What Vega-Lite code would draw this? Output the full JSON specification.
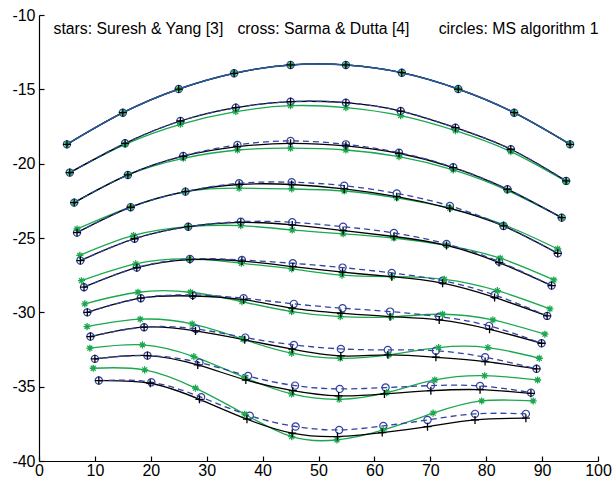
{
  "$schema": "https://vega.github.io/schema/vega-lite/v6.json",
  "width": 559,
  "height": 446,
  "autosize": {"type": "none"},
  "padding": {"left": 39, "top": 15, "right": 15, "bottom": 25},
  "config": {
    "view": {"stroke": null},
    "font": "Liberation Sans",
    "axis": {"domainColor": "#000", "tickColor": "#000", "labelColor": "#000", "labelFont": "Liberation Sans", "labelFontSize": 16, "grid": false, "title": null, "tickSize": -5, "domainWidth": 1.2, "tickWidth": 1.2, "labelFlush": false, "labelOverlap": false, "labelExpr": "'' + datum.value"}
  },
  "datasets": {
    "notes": [
      {"t": "stars: Suresh & Yang [3]", "x": 2.6, "y": -11.28},
      {"t": "cross: Sarma & Dutta [4]", "x": 35.5, "y": -11.28},
      {"t": "circles: MS algorithm 1", "x": 71.5, "y": -11.28}
    ],
    "pts": [
      {"r":1,"m":"s","x":5,"y":-18.7},{"r":1,"m":"s","x":15,"y":-16.57},{"r":1,"m":"s","x":25,"y":-14.98},{"r":1,"m":"s","x":34.9,"y":-13.92},{"r":1,"m":"s","x":45,"y":-13.36},{"r":1,"m":"s","x":54.9,"y":-13.36},{"r":1,"m":"s","x":64.9,"y":-13.88},{"r":1,"m":"s","x":75,"y":-14.98},{"r":1,"m":"s","x":85,"y":-16.57},{"r":1,"m":"s","x":95,"y":-18.7},
      {"r":1,"m":"k","x":5,"y":-18.7},{"r":1,"m":"k","x":15,"y":-16.57},{"r":1,"m":"k","x":25,"y":-14.98},{"r":1,"m":"k","x":34.9,"y":-13.92},{"r":1,"m":"k","x":45,"y":-13.36},{"r":1,"m":"k","x":54.9,"y":-13.36},{"r":1,"m":"k","x":64.9,"y":-13.88},{"r":1,"m":"k","x":75,"y":-14.98},{"r":1,"m":"k","x":85,"y":-16.57},{"r":1,"m":"k","x":95,"y":-18.7},
      {"r":1,"m":"c","x":5,"y":-18.7},{"r":1,"m":"c","x":15,"y":-16.57},{"r":1,"m":"c","x":25,"y":-14.98},{"r":1,"m":"c","x":34.9,"y":-13.92},{"r":1,"m":"c","x":45,"y":-13.36},{"r":1,"m":"c","x":54.9,"y":-13.36},{"r":1,"m":"c","x":64.9,"y":-13.88},{"r":1,"m":"c","x":75,"y":-14.98},{"r":1,"m":"c","x":85,"y":-16.57},{"r":1,"m":"c","x":95,"y":-18.7},

      {"r":2,"m":"s","x":5.5,"y":-20.6},{"r":2,"m":"s","x":15.4,"y":-18.7},{"r":2,"m":"s","x":25.3,"y":-17.35},{"r":2,"m":"s","x":35.2,"y":-16.5},{"r":2,"m":"s","x":45,"y":-16.1},{"r":2,"m":"s","x":54.9,"y":-16.23},{"r":2,"m":"s","x":64.7,"y":-16.77},{"r":2,"m":"s","x":74.5,"y":-17.78},{"r":2,"m":"s","x":84.4,"y":-19.19},{"r":2,"m":"s","x":94.3,"y":-21.2},
      {"r":2,"m":"k","x":5.5,"y":-20.6},{"r":2,"m":"k","x":15.4,"y":-18.63},{"r":2,"m":"k","x":25.3,"y":-17.13},{"r":2,"m":"k","x":35.2,"y":-16.23},{"r":2,"m":"k","x":45,"y":-15.83},{"r":2,"m":"k","x":54.9,"y":-15.9},{"r":2,"m":"k","x":64.7,"y":-16.46},{"r":2,"m":"k","x":74.5,"y":-17.58},{"r":2,"m":"k","x":84.4,"y":-19.03},{"r":2,"m":"k","x":94.3,"y":-21.16},
      {"r":2,"m":"c","x":5.5,"y":-20.6},{"r":2,"m":"c","x":15.4,"y":-18.63},{"r":2,"m":"c","x":25.3,"y":-17.13},{"r":2,"m":"c","x":35.2,"y":-16.23},{"r":2,"m":"c","x":45,"y":-15.83},{"r":2,"m":"c","x":54.9,"y":-15.9},{"r":2,"m":"c","x":64.7,"y":-16.46},{"r":2,"m":"c","x":74.5,"y":-17.58},{"r":2,"m":"c","x":84.4,"y":-19.03},{"r":2,"m":"c","x":94.3,"y":-21.16},

      {"r":3,"m":"s","x":6.3,"y":-22.62},{"r":3,"m":"s","x":15.9,"y":-20.76},{"r":3,"m":"s","x":25.8,"y":-19.64},{"r":3,"m":"s","x":35.5,"y":-19.08},{"r":3,"m":"s","x":45,"y":-18.96},{"r":3,"m":"s","x":54.9,"y":-19.08},{"r":3,"m":"s","x":64.4,"y":-19.53},{"r":3,"m":"s","x":74.1,"y":-20.42},{"r":3,"m":"s","x":83.8,"y":-21.8},{"r":3,"m":"s","x":93.5,"y":-23.63},
      {"r":3,"m":"k","x":6.3,"y":-22.62},{"r":3,"m":"k","x":15.9,"y":-20.76},{"r":3,"m":"k","x":25.8,"y":-19.5},{"r":3,"m":"k","x":35.5,"y":-18.86},{"r":3,"m":"k","x":45,"y":-18.63},{"r":3,"m":"k","x":54.9,"y":-18.8},{"r":3,"m":"k","x":64.4,"y":-19.3},{"r":3,"m":"k","x":74.1,"y":-20.26},{"r":3,"m":"k","x":83.8,"y":-21.72},{"r":3,"m":"k","x":93.5,"y":-23.63},
      {"r":3,"m":"c","x":6.3,"y":-22.62},{"r":3,"m":"c","x":15.9,"y":-20.76},{"r":3,"m":"c","x":25.8,"y":-19.48},{"r":3,"m":"c","x":35.5,"y":-18.74},{"r":3,"m":"c","x":45,"y":-18.47},{"r":3,"m":"c","x":54.9,"y":-18.7},{"r":3,"m":"c","x":64.4,"y":-19.26},{"r":3,"m":"c","x":74.1,"y":-20.24},{"r":3,"m":"c","x":83.8,"y":-21.72},{"r":3,"m":"c","x":93.5,"y":-23.63},

      {"r":4,"m":"s","x":6.8,"y":-24.39},{"r":4,"m":"s","x":16.4,"y":-22.9},{"r":4,"m":"s","x":26.2,"y":-21.88},{"r":4,"m":"s","x":35.8,"y":-21.65},{"r":4,"m":"s","x":45.2,"y":-21.7},{"r":4,"m":"s","x":54.6,"y":-21.84},{"r":4,"m":"s","x":64,"y":-22.3},{"r":4,"m":"s","x":73.5,"y":-23},{"r":4,"m":"s","x":83.1,"y":-24.1},{"r":4,"m":"s","x":92.8,"y":-25.74},
      {"r":4,"m":"k","x":6.8,"y":-24.64},{"r":4,"m":"k","x":16.4,"y":-22.93},{"r":4,"m":"k","x":26.2,"y":-21.88},{"r":4,"m":"k","x":35.8,"y":-21.4},{"r":4,"m":"k","x":45.2,"y":-21.4},{"r":4,"m":"k","x":54.6,"y":-21.7},{"r":4,"m":"k","x":64,"y":-22.22},{"r":4,"m":"k","x":73.5,"y":-23},{"r":4,"m":"k","x":83.1,"y":-24.19},{"r":4,"m":"k","x":92.8,"y":-26.03},
      {"r":4,"m":"c","x":6.8,"y":-24.64},{"r":4,"m":"c","x":16.4,"y":-22.93},{"r":4,"m":"c","x":26.2,"y":-21.88},{"r":4,"m":"c","x":35.8,"y":-21.32},{"r":4,"m":"c","x":45.2,"y":-21.25},{"r":4,"m":"c","x":54.6,"y":-21.48},{"r":4,"m":"c","x":64,"y":-22},{"r":4,"m":"c","x":73.5,"y":-22.84},{"r":4,"m":"c","x":83.1,"y":-24.19},{"r":4,"m":"c","x":92.8,"y":-26.03},

      {"r":5,"m":"s","x":7.3,"y":-26.17},{"r":5,"m":"s","x":16.9,"y":-24.83},{"r":5,"m":"s","x":26.7,"y":-24.24},{"r":5,"m":"s","x":36.1,"y":-24.17},{"r":5,"m":"s","x":45.3,"y":-24.46},{"r":5,"m":"s","x":54.4,"y":-24.72},{"r":5,"m":"s","x":63.5,"y":-25},{"r":5,"m":"s","x":72.9,"y":-25.5},{"r":5,"m":"s","x":82.5,"y":-26.36},{"r":5,"m":"s","x":92.1,"y":-27.82},
      {"r":5,"m":"k","x":7.4,"y":-26.52},{"r":5,"m":"k","x":17.1,"y":-25.05},{"r":5,"m":"k","x":26.7,"y":-24.24},{"r":5,"m":"k","x":36.1,"y":-23.95},{"r":5,"m":"k","x":45.3,"y":-24.12},{"r":5,"m":"k","x":54.4,"y":-24.5},{"r":5,"m":"k","x":63.5,"y":-24.9},{"r":5,"m":"k","x":72.9,"y":-25.5},{"r":5,"m":"k","x":82.3,"y":-26.65},{"r":5,"m":"k","x":91.7,"y":-28.2},
      {"r":5,"m":"c","x":7.4,"y":-26.52},{"r":5,"m":"c","x":17.1,"y":-25.05},{"r":5,"m":"c","x":26.7,"y":-24.24},{"r":5,"m":"c","x":36.1,"y":-23.9},{"r":5,"m":"c","x":45.3,"y":-23.94},{"r":5,"m":"c","x":54.4,"y":-24.24},{"r":5,"m":"c","x":63.5,"y":-24.66},{"r":5,"m":"c","x":72.9,"y":-25.4},{"r":5,"m":"c","x":82.3,"y":-26.59},{"r":5,"m":"c","x":91.7,"y":-28.2},

      {"r":6,"m":"s","x":7.6,"y":-27.87},{"r":6,"m":"s","x":17.3,"y":-26.74},{"r":6,"m":"s","x":26.9,"y":-26.41},{"r":6,"m":"s","x":36.2,"y":-26.7},{"r":6,"m":"s","x":45.2,"y":-27.08},{"r":6,"m":"s","x":54.2,"y":-27.5},{"r":6,"m":"s","x":63.2,"y":-27.6},{"r":6,"m":"s","x":72.5,"y":-27.78},{"r":6,"m":"s","x":82,"y":-28.54},{"r":6,"m":"s","x":91.4,"y":-29.77},
      {"r":6,"m":"k","x":8.05,"y":-28.31},{"r":6,"m":"k","x":17.5,"y":-27},{"r":6,"m":"k","x":27,"y":-26.45},{"r":6,"m":"k","x":36.3,"y":-26.55},{"r":6,"m":"k","x":45.4,"y":-26.93},{"r":6,"m":"k","x":54.3,"y":-27.3},{"r":6,"m":"k","x":63.1,"y":-27.6},{"r":6,"m":"k","x":72.2,"y":-28.04},{"r":6,"m":"k","x":81.5,"y":-29},{"r":6,"m":"k","x":90.9,"y":-30.24},
      {"r":6,"m":"c","x":8.05,"y":-28.31},{"r":6,"m":"c","x":17.5,"y":-26.99},{"r":6,"m":"c","x":27,"y":-26.41},{"r":6,"m":"c","x":36.3,"y":-26.48},{"r":6,"m":"c","x":45.4,"y":-26.7},{"r":6,"m":"c","x":54.3,"y":-26.99},{"r":6,"m":"c","x":63.1,"y":-27.35},{"r":6,"m":"c","x":72.2,"y":-27.87},{"r":6,"m":"c","x":81.5,"y":-28.83},{"r":6,"m":"c","x":90.9,"y":-30.24},

      {"r":7,"m":"s","x":8.2,"y":-29.43},{"r":7,"m":"s","x":17.7,"y":-28.65},{"r":7,"m":"s","x":27.1,"y":-28.65},{"r":7,"m":"s","x":36.3,"y":-29.28},{"r":7,"m":"s","x":45.2,"y":-29.95},{"r":7,"m":"s","x":53.9,"y":-30.29},{"r":7,"m":"s","x":63,"y":-30.3},{"r":7,"m":"s","x":72.2,"y":-30.13},{"r":7,"m":"s","x":81.2,"y":-30.51},{"r":7,"m":"s","x":90.5,"y":-31.47},
      {"r":7,"m":"k","x":8.64,"y":-30},{"r":7,"m":"k","x":18.2,"y":-29.05},{"r":7,"m":"k","x":27.5,"y":-28.9},{"r":7,"m":"k","x":36.6,"y":-29.15},{"r":7,"m":"k","x":45.3,"y":-29.72},{"r":7,"m":"k","x":54,"y":-30.06},{"r":7,"m":"k","x":62.8,"y":-30.29},{"r":7,"m":"k","x":71.6,"y":-30.51},{"r":7,"m":"k","x":80.6,"y":-31.14},{"r":7,"m":"k","x":89.9,"y":-32.08},
      {"r":7,"m":"c","x":8.64,"y":-30},{"r":7,"m":"c","x":18.2,"y":-29.05},{"r":7,"m":"c","x":27.5,"y":-28.83},{"r":7,"m":"c","x":36.6,"y":-29.05},{"r":7,"m":"c","x":45.6,"y":-29.43},{"r":7,"m":"c","x":54.3,"y":-29.72},{"r":7,"m":"c","x":62.8,"y":-29.95},{"r":7,"m":"c","x":71.6,"y":-30.29},{"r":7,"m":"c","x":80.5,"y":-30.91},{"r":7,"m":"c","x":89.9,"y":-32.08},

      {"r":8,"m":"s","x":8.6,"y":-30.96},{"r":8,"m":"s","x":18.1,"y":-30.46},{"r":8,"m":"s","x":27.4,"y":-30.78},{"r":8,"m":"s","x":36.5,"y":-31.81},{"r":8,"m":"s","x":45.2,"y":-32.75},{"r":8,"m":"s","x":53.9,"y":-33.09},{"r":8,"m":"s","x":62.6,"y":-32.86},{"r":8,"m":"s","x":71.5,"y":-32.37},{"r":8,"m":"s","x":80.3,"y":-32.37},{"r":8,"m":"s","x":89.5,"y":-33.09},
      {"r":8,"m":"k","x":9.2,"y":-31.63},{"r":8,"m":"k","x":18.8,"y":-31},{"r":8,"m":"k","x":28,"y":-31.25},{"r":8,"m":"k","x":36.8,"y":-31.85},{"r":8,"m":"k","x":45.3,"y":-32.48},{"r":8,"m":"k","x":54,"y":-32.93},{"r":8,"m":"k","x":62.4,"y":-32.86},{"r":8,"m":"k","x":71,"y":-33.02},{"r":8,"m":"k","x":79.8,"y":-33.31},{"r":8,"m":"k","x":89,"y":-33.8},
      {"r":8,"m":"c","x":9.2,"y":-31.63},{"r":8,"m":"c","x":18.8,"y":-31},{"r":8,"m":"c","x":28.1,"y":-31.12},{"r":8,"m":"c","x":36.9,"y":-31.7},{"r":8,"m":"c","x":45.6,"y":-32.19},{"r":8,"m":"c","x":54,"y":-32.46},{"r":8,"m":"c","x":62.4,"y":-32.53},{"r":8,"m":"c","x":71,"y":-32.58},{"r":8,"m":"c","x":79.8,"y":-33.02},{"r":8,"m":"c","x":89,"y":-33.8},

      {"r":9,"m":"s","x":9.1,"y":-32.41},{"r":9,"m":"s","x":18.5,"y":-32.19},{"r":9,"m":"s","x":27.7,"y":-32.98},{"r":9,"m":"s","x":36.8,"y":-34.39},{"r":9,"m":"s","x":45.2,"y":-35.49},{"r":9,"m":"s","x":53.7,"y":-35.85},{"r":9,"m":"s","x":62.2,"y":-35.4},{"r":9,"m":"s","x":70.8,"y":-34.55},{"r":9,"m":"s","x":79.7,"y":-34.26},{"r":9,"m":"s","x":89.2,"y":-34.55},
      {"r":9,"m":"k","x":10,"y":-33.13},{"r":9,"m":"k","x":19.4,"y":-32.91},{"r":9,"m":"k","x":28.4,"y":-33.54},{"r":9,"m":"k","x":37,"y":-34.55},{"r":9,"m":"k","x":45.4,"y":-35.27},{"r":9,"m":"k","x":53.6,"y":-35.62},{"r":9,"m":"k","x":61.8,"y":-35.49},{"r":9,"m":"k","x":70.1,"y":-35.27},{"r":9,"m":"k","x":78.9,"y":-35.2},{"r":9,"m":"k","x":88,"y":-35.45},
      {"r":9,"m":"c","x":10,"y":-33.13},{"r":9,"m":"c","x":19.4,"y":-32.91},{"r":9,"m":"c","x":28.7,"y":-33.38},{"r":9,"m":"c","x":37.4,"y":-34.28},{"r":9,"m":"c","x":45.8,"y":-34.93},{"r":9,"m":"c","x":53.8,"y":-35.15},{"r":9,"m":"c","x":62,"y":-35.06},{"r":9,"m":"c","x":70.1,"y":-34.93},{"r":9,"m":"c","x":78.9,"y":-34.95},{"r":9,"m":"c","x":88,"y":-35.4},

      {"r":10,"m":"s","x":9.7,"y":-33.76},{"r":10,"m":"s","x":18.9,"y":-33.87},{"r":10,"m":"s","x":28,"y":-35.1},{"r":10,"m":"s","x":36.8,"y":-36.85},{"r":10,"m":"s","x":45.2,"y":-38.36},{"r":10,"m":"s","x":53.3,"y":-38.58},{"r":10,"m":"s","x":61.6,"y":-37.91},{"r":10,"m":"s","x":70.5,"y":-36.78},{"r":10,"m":"s","x":79.2,"y":-35.96},{"r":10,"m":"s","x":88.4,"y":-35.96},
      {"r":10,"m":"k","x":10.7,"y":-34.59},{"r":10,"m":"k","x":19.9,"y":-34.77},{"r":10,"m":"k","x":28.7,"y":-35.85},{"r":10,"m":"k","x":37.2,"y":-37.19},{"r":10,"m":"k","x":45.3,"y":-38.13},{"r":10,"m":"k","x":53.4,"y":-38.36},{"r":10,"m":"k","x":61.4,"y":-38.09},{"r":10,"m":"k","x":69.5,"y":-37.69},{"r":10,"m":"k","x":78,"y":-37.24},{"r":10,"m":"k","x":87.1,"y":-37.12},
      {"r":10,"m":"c","x":10.7,"y":-34.59},{"r":10,"m":"c","x":20.1,"y":-34.7},{"r":10,"m":"c","x":29,"y":-35.71},{"r":10,"m":"c","x":37.7,"y":-36.95},{"r":10,"m":"c","x":45.9,"y":-37.68},{"r":10,"m":"c","x":53.7,"y":-37.91},{"r":10,"m":"c","x":61.6,"y":-37.64},{"r":10,"m":"c","x":69.5,"y":-37.24},{"r":10,"m":"c","x":78,"y":-36.83},{"r":10,"m":"c","x":87.1,"y":-36.83}
    ]
  },
  "encoding": {
    "x": {"field": "x", "type": "quantitative", "scale": {"domain": [0, 100], "nice": false, "zero": false}, "axis": {"values": [0, 10, 20, 30, 40, 50, 60, 70, 80, 90, 100], "labelPadding": 6}},
    "y": {"field": "y", "type": "quantitative", "scale": {"domain": [-40, -10], "nice": false, "zero": false}, "axis": {"values": [-40, -35, -30, -25, -20, -15, -10], "labelPadding": 9}}
  },
  "layer": [
    {"data": {"name": "pts"}, "transform": [{"filter": "datum.m === 's'"}], "mark": {"type": "line", "interpolate": "natural", "color": "#1aa84e", "strokeWidth": 1.3}, "encoding": {"detail": {"field": "r"}}},
    {"data": {"name": "pts"}, "transform": [{"filter": "datum.m === 'k'"}], "mark": {"type": "line", "interpolate": "natural", "color": "#000000", "strokeWidth": 1.3}, "encoding": {"detail": {"field": "r"}}},
    {"data": {"name": "pts"}, "transform": [{"filter": "datum.m === 'c'"}], "mark": {"type": "line", "interpolate": "natural", "color": "#3342a3", "strokeWidth": 1.3, "strokeDash": [6, 4]}, "encoding": {"detail": {"field": "r"}}},
    {"data": {"name": "pts"}, "transform": [{"filter": "datum.m === 'c' && datum.r === 1"}], "mark": {"type": "line", "interpolate": "natural", "color": "#2d5898", "strokeWidth": 1.5}, "encoding": {"detail": {"field": "r"}}},
    {"data": {"name": "pts"}, "transform": [{"filter": "datum.m === 'c'"}], "mark": {"type": "point", "shape": "circle", "filled": false, "color": "#3342a3", "size": 52, "strokeWidth": 1.2, "opacity": 1}},
    {"data": {"name": "pts"}, "transform": [{"filter": "datum.m === 's'"}], "mark": {"type": "point", "shape": "M-1,0L1,0M0,-1L0,1M-0.7,-0.7L0.7,0.7M-0.7,0.7L0.7,-0.7", "filled": false, "color": "#1aa84e", "size": 50, "strokeWidth": 1.3, "opacity": 1}},
    {"data": {"name": "pts"}, "transform": [{"filter": "datum.m === 'k'"}], "mark": {"type": "point", "shape": "M-1,0L1,0M0,-1L0,1", "filled": false, "color": "#000000", "size": 64, "strokeWidth": 1.3, "opacity": 1}},
    {"data": {"name": "notes"}, "mark": {"type": "text", "align": "left", "baseline": "alphabetic", "fontSize": 15.8, "font": "Liberation Sans", "color": "#000"}, "encoding": {"text": {"field": "t"}}}
  ]
}
